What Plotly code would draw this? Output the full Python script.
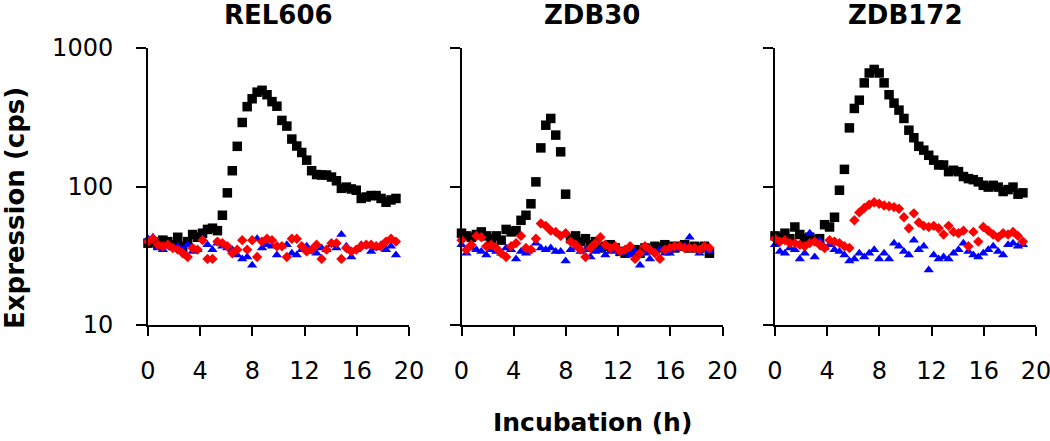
import plotly.graph_objects as go

hours = [0.0, 0.38, 0.76, 1.14, 1.52, 1.9, 2.28, 2.66, 3.04, 3.42, 3.8, 4.18, 4.56, 4.94,
         5.32, 5.7, 6.08, 6.46, 6.84, 7.22, 7.6, 7.98, 8.36, 8.74, 9.12, 9.5, 9.88, 10.26,
         10.64, 11.02, 11.4, 11.78, 12.16, 12.54, 12.92, 13.3, 13.68, 14.06, 14.44, 14.82,
         15.2, 15.58, 15.96, 16.34, 16.72, 17.1, 17.48, 17.86, 18.24, 18.62, 19.0]

panel_titles = ["REL606", "ZDB30", "ZDB172"]
x_tick_vals = [0, 4, 8, 12, 16, 20]
x_tick_text = ["0", "4", "8", "12", "16", "20"]
y_tick_vals = [10, 100, 1000]
y_tick_text = ["10", "100", "1000"]

rel606_black = [39, 40, 38, 41, 40, 38, 43, 37, 40, 45, 43, 46, 49, 50, 48, 62, 90, 130, 195, 290,
                377, 430, 480, 495, 460, 410, 380, 300, 273, 220, 196, 176, 155, 130, 122, 121,
                121, 117, 110, 97, 99, 96, 94, 82, 84, 86, 86, 82, 77, 80, 82]
rel606_blue = [42, 43, 36, 35, 37, 36, 37, 35, 38, 34, 35, 42, 38, 35, 39, 37, 36, 35, 32, 30,
               31, 27, 42, 36, 38, 37, 32, 37, 38, 33, 32, 35, 37, 34, 33, 36, 35, 38, 36, 45,
               37, 31, 35, 38, 37, 34, 36, 38, 35, 37, 32]
rel606_red = [40, 42, 38, 37, 38, 36, 35, 33, 31, 36, 35, 41, 30, 30, 40, 39, 37, 33, 35, 41,
              35, 41, 31, 40, 42, 41, 37, 37, 31, 42, 42, 37, 34, 35, 38, 30, 35, 39, 39, 30,
              36, 34, 35, 37, 38, 38, 37, 37, 40, 42, 40]

zdb30_black = [46, 44, 43, 45, 47, 44, 42, 44, 41, 49, 47, 48, 57, 62, 75, 108, 190, 277, 310, 235,
               178, 88, 42, 44, 40, 42, 38, 40, 36, 37, 38, 36, 34, 33, 34, 35, 33, 36, 35, 37,
               36, 38, 37, 36, 37, 38, 36, 37, 36, 37, 33]
zdb30_blue = [38, 33, 36, 35, 34, 32, 35, 34, 33, 36, 35, 30, 34, 33, 35, 39, 36, 35, 36, 34,
              34, 29, 35, 36, 34, 35, 31, 34, 35, 32, 34, 35, 33, 34, 32, 34, 27, 33, 30, 34,
              35, 33, 33, 35, 36, 37, 43, 36, 33, 35, 34]
zdb30_red = [41, 35, 38, 44, 43, 37, 38, 36, 33, 31, 37, 39, 44, 36, 35, 42, 54, 52, 48, 47,
             44, 46, 40, 38, 35, 31, 36, 39, 43, 38, 36, 37, 34, 35, 37, 30, 33, 37, 35, 33,
             30, 35, 36, 37, 37, 36, 36, 36, 35, 37, 36]

zdb172_black = [44, 43, 46, 42, 51, 45, 42, 43, 41, 42, 53, 51, 60, 94, 133, 265, 366, 420, 560, 660,
                700, 660, 560, 460, 400, 356, 310, 255, 225, 195, 183, 168, 155, 143, 143, 128,
                131, 128, 118, 114, 112, 108, 102, 99, 102, 99, 92, 95, 99, 88, 90]
zdb172_blue = [38, 34, 33, 36, 35, 30, 33, 46, 31, 41, 36, 38, 35, 34, 32, 29, 30, 33, 31, 33,
               35, 30, 33, 30, 39, 37, 34, 32, 41, 35, 37, 25, 32, 30, 31, 30, 33, 35, 39, 34,
               32, 31, 33, 35, 37, 34, 32, 38, 39, 37, 38]
zdb172_red = [42, 40, 41, 39, 39, 38, 37, 39, 40, 38, 36, 41, 40, 39, 37, 36, 57, 65, 70, 74,
              77, 75, 73, 72, 71, 69, 60, 50, 64, 55, 52, 51, 52, 50, 45, 52, 47, 46, 48, 37,
              47, 40, 51, 48, 45, 43, 46, 45, 47, 44, 40]

panels = [
    (rel606_black, rel606_blue, rel606_red),
    (zdb30_black, zdb30_blue, zdb30_red),
    (zdb172_black, zdb172_blue, zdb172_red),
]

W, H = 1050, 441
px_domains = [(148, 409), (461.5, 722.5), (775, 1036)]
y_top, y_bot = 48, 325

fig = go.Figure()
for i, (blk, blu, red) in enumerate(panels):
    xa = "x" if i == 0 else f"x{i+1}"
    ya = "y" if i == 0 else f"y{i+1}"
    fig.add_trace(go.Scatter(x=hours, y=blk, mode="markers", xaxis=xa, yaxis=ya,
                             marker=dict(symbol="square", size=9.5, color="#000000"),
                             cliponaxis=False, showlegend=False))
    fig.add_trace(go.Scatter(x=hours, y=blu, mode="markers", xaxis=xa, yaxis=ya,
                             marker=dict(symbol="triangle-up", size=9, color="#0000FF"),
                             cliponaxis=False, showlegend=False))
    fig.add_trace(go.Scatter(x=hours, y=red, mode="markers", xaxis=xa, yaxis=ya,
                             marker=dict(symbol="diamond", size=8, color="#FF0000"),
                             cliponaxis=False, showlegend=False))

font_family = "DejaVu Sans"
layout = dict(
    width=W, height=H,
    margin=dict(l=0, r=0, t=0, b=0, autoexpand=False),
    paper_bgcolor="white", plot_bgcolor="white",
    font=dict(family=font_family, color="#000000", size=24),
)
for i, (a, b) in enumerate(px_domains):
    xk = "xaxis" if i == 0 else f"xaxis{i+1}"
    yk = "yaxis" if i == 0 else f"yaxis{i+1}"
    layout[xk] = dict(
        domain=[a / W, b / W], range=[0, 20], anchor="y" if i == 0 else f"y{i+1}",
        showgrid=False, zeroline=False, showline=True, linecolor="#000000", linewidth=2,
        ticks="outside", ticklen=9, tickwidth=2, tickcolor="#000000",
        tickvals=x_tick_vals, ticktext=x_tick_text, ticklabelstandoff=14,
        ticklabeloverflow="allow",
        tickfont=dict(family=font_family, size=24, color="#000000"),
    )
    layout[yk] = dict(
        domain=[1 - y_bot / H, 1 - y_top / H], type="log", range=[1, 3],
        anchor="x" if i == 0 else f"x{i+1}",
        showgrid=False, zeroline=False, showline=True, linecolor="#000000", linewidth=2,
        ticks="outside", ticklen=10, tickwidth=2, tickcolor="#000000",
        tickvals=y_tick_vals, ticktext=y_tick_text, showticklabels=(i == 0),
        ticklabelstandoff=18, ticklabeloverflow="allow",
        tickfont=dict(family=font_family, size=24, color="#000000"),
    )
fig.update_layout(**layout)

annotations = []
for i, title in enumerate(panel_titles):
    a, b = px_domains[i]
    annotations.append(dict(text=f"<b>{title}</b>", x=(a + b) / 2 / W, y=1 - 15 / H,
                            xref="paper", yref="paper", showarrow=False,
                            xanchor="center", yanchor="middle",
                            font=dict(family=font_family, size=26, color="#000000")))
annotations.append(dict(text="<b>Incubation (h)</b>", x=592 / W, y=1 - 422 / H,
                        xref="paper", yref="paper", showarrow=False,
                        xanchor="center", yanchor="middle",
                        font=dict(family=font_family, size=25, color="#000000")))
annotations.append(dict(text="<b>Expression (cps)</b>", x=15 / W, y=1 - 208 / H,
                        xref="paper", yref="paper", showarrow=False, textangle=-90,
                        xanchor="center", yanchor="middle",
                        font=dict(family=font_family, size=26, color="#000000")))
fig.update_layout(annotations=annotations)

fig.write_html("out.html", config={"displayModeBar": False},
               post_script="document.body.style.margin='0px';document.body.style.padding='0px';")
